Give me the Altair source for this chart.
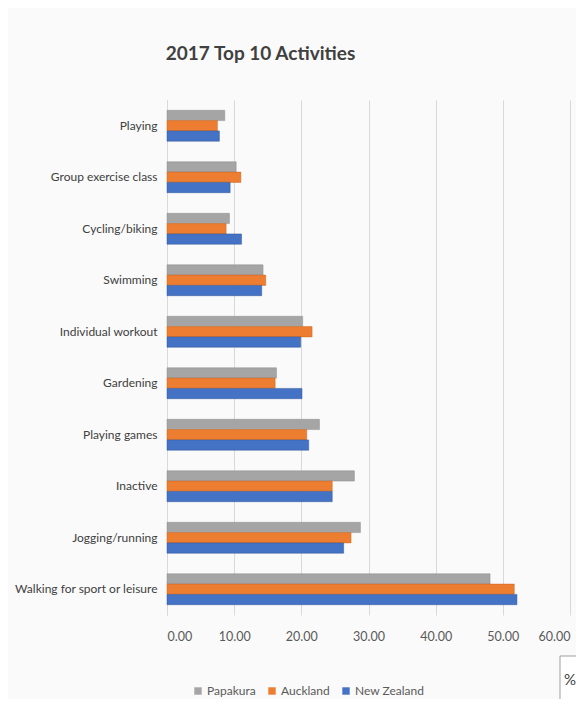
import altair as alt
import pandas as pd

activities = ["Playing", "Group exercise class", "Cycling/biking", "Swimming",
              "Individual workout", "Gardening", "Playing games", "Inactive",
              "Jogging/running", "Walking for sport or leisure"]
series = ["Papakura", "Auckland", "New Zealand"]
papakura = [8.6, 10.3, 9.3, 14.3, 20.2, 16.3, 22.7, 27.9, 28.8, 48.1]
auckland = [7.5, 11.0, 8.8, 14.7, 21.6, 16.1, 20.8, 24.6, 27.4, 51.7]
new_zealand = [7.8, 9.4, 11.1, 14.1, 19.9, 20.1, 21.1, 24.6, 26.3, 52.1]
colors = ["#a5a5a5", "#ed7d31", "#4472c4"]
x_ticks = [0, 10, 20, 30, 40, 50, 60]
unit_label = ["%"]

rows = []
for s, vals in zip(series, [papakura, auckland, new_zealand]):
    for a, v in zip(activities, vals):
        rows.append({"Activity": a, "Area": s, "Value": v})
df = pd.DataFrame(rows)

FONT = "Lato"

bars = alt.Chart(df).mark_bar(strokeWidth=0.8, strokeOpacity=0.6).encode(
    x=alt.X("Value:Q",
            scale=alt.Scale(domain=[0, 60], nice=False),
            axis=alt.Axis(values=x_ticks, format=".2f", title=None,
                          grid=True, gridColor="#d9d9d9", gridWidth=1,
                          domain=False, ticks=False, labelPadding=15,
                          labelFont=FONT, labelFontSize=12.5, labelColor="#595959")),
    y=alt.Y("Activity:N", sort=activities,
            scale=alt.Scale(paddingInner=0.4, paddingOuter=0.2),
            axis=alt.Axis(title=None, ticks=False, domain=True,
                          domainColor="#d9d9d9", labelPadding=10,
                          labelFont=FONT, labelFontSize=12, labelColor="#404040",
                          labelLimit=300)),
    yOffset=alt.YOffset("Area:N", sort=series,
                        scale=alt.Scale(paddingInner=0, paddingOuter=0)),
    color=alt.Color("Area:N", sort=series,
                    scale=alt.Scale(domain=series, range=colors),
                    legend=alt.Legend(title=None, orient="none", direction="horizontal",
                                      legendX=25, legendY=585,
                                      symbolType="square", symbolSize=55,
                                      symbolStrokeWidth=0,
                                      labelFont=FONT, labelFontSize=12,
                                      labelColor="#595959", columnPadding=10,
                                      labelOffset=3)),
    stroke=alt.Stroke("Area:N", sort=series,
                      scale=alt.Scale(domain=series,
                                      range=["#8c8c8c", "#c9651d", "#2f5597"]),
                      legend=None),
)

unit_df = pd.DataFrame({"u": unit_label})
box = alt.Chart(unit_df).mark_rect(
    fill="white", stroke="#a0a0a0", strokeWidth=1
).encode(x=alt.value(393), x2=alt.value(430), y=alt.value(556), y2=alt.value(603))
unit_text = alt.Chart(unit_df).mark_text(
    font=FONT, fontSize=15, color="#404040", align="center", baseline="middle"
).encode(text="u:N", x=alt.value(403), y=alt.value(580))

chart = alt.layer(box, unit_text, bars).properties(
    width=403, height=515,
    autosize=alt.AutoSizeParams(type="none"),
    padding={"left": 159, "top": 92, "right": 6, "bottom": 84},
    background="#fafafa",
    title=alt.TitleParams("2017 Top 10 Activities", anchor="middle", dx=-108,
                          offset=36, font=FONT, fontSize=19, fontWeight="bold",
                          color="#404040"),
).configure_view(stroke=None)

chart.save("out.html", embed_options={"renderer": "svg", "actions": False})
